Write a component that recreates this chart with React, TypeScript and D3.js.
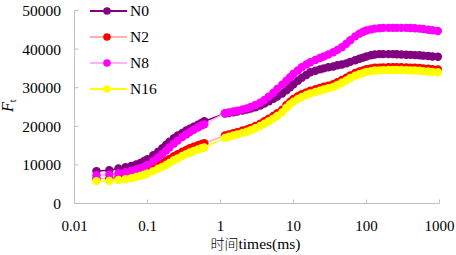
import React from "react";
import * as d3 from "d3";

// ---- data ----
const seriesNames = ["N0", "N2", "N8", "N16"];

const times = [
  0.02, 0.03, 0.04, 0.05, 0.06, 0.07, 0.08, 0.09, 0.1, 0.12, 0.14, 0.16, 0.18, 0.2, 0.23, 0.26, 0.3, 0.34, 0.38, 0.43, 0.49, 0.55, 0.6,
  1.15, 1.3, 1.5, 1.7, 2, 2.3, 2.6, 3, 3.5, 4, 4.6, 5.3, 6, 7, 8, 9, 10, 11.5, 13, 15,
  17, 20, 23, 26, 30, 35, 40, 46, 53, 60, 70, 80, 90, 100, 115, 130, 150, 170, 200, 230,
  260, 300, 350, 400, 460, 530, 600, 700, 800, 950,
];

const n0Values = [
  8400, 8600, 9100, 9400, 9750, 10100, 10500, 11000, 11500, 12500, 13400, 14300, 15200, 16000, 16900, 17600, 18300, 18900, 19400, 19900, 20400, 20900, 21300,
  23300, 23450, 23650, 23850, 24100, 24350, 24600, 24900, 25400, 25900, 26500, 27100, 27700, 28500, 29300, 30100, 30900, 31800, 32600, 33300,
  34000, 34400, 34750, 35000, 35300, 35500, 35800, 36000, 36300, 36700, 37100, 37500, 37800, 38100, 38400, 38600, 38700, 38700, 38700, 38700,
  38650, 38600, 38550, 38500, 38450, 38400, 38300, 38200, 38100, 38000,
];

const n2Values = [
  6400, 6450, 6800, 7000, 7300, 7650, 8000, 8400, 8800, 9400, 10000, 10550, 11050, 11550, 12250, 12800, 13400, 13900, 14300, 14700, 15100, 15400, 15600,
  17600, 17900, 18200, 18500, 18900, 19200, 19600, 20100, 20700, 21300, 22000, 22700, 23400, 24300, 25500, 26400, 27100, 27800, 28300, 28800,
  29200, 29600, 29950, 30250, 30550, 30900, 31400, 32000, 32600, 33200, 33800, 34200, 34500, 34800, 35000, 35150, 35200, 35250, 35300, 35300,
  35300, 35300, 35250, 35200, 35150, 35100, 35000, 34900, 34800, 34700,
];

const n8Values = [
  7300, 7450, 7800, 8100, 8450, 8800, 9150, 9550, 10000, 11000, 11900, 12800, 13700, 14500, 15500, 16300, 17200, 17900, 18500, 19100, 19700, 20200, 20500,
  23400, 23600, 23850, 24050, 24350, 24650, 25000, 25500, 26100, 26800, 27700, 28700, 29700, 30800, 31800, 32700, 33600, 34500, 35300, 36000,
  36600, 37200, 37700, 38100, 38600, 39200, 39800, 40500, 41400, 42300, 43300, 44000, 44500, 44800, 45100, 45300, 45400, 45500, 45500, 45500,
  45500, 45500, 45500, 45450, 45400, 45300, 45200, 45000, 44900, 44700,
];

const n16Values = [
  5800, 5850, 6100, 6300, 6550, 6850, 7150, 7450, 7800, 8400, 9000, 9500, 10000, 10500, 11200, 11700, 12300, 12800, 13200, 13600, 14000, 14300, 14500,
  17000, 17300, 17600, 17900, 18300, 18600, 19000, 19500, 20100, 20700, 21300, 22000, 22700, 23600, 24800, 25700, 26400, 27100, 27600, 28100,
  28500, 28900, 29250, 29550, 29850, 30200, 30700, 31300, 31900, 32500, 33100, 33500, 33800, 34100, 34300, 34450, 34500, 34550, 34600, 34600,
  34600, 34600, 34550, 34500, 34450, 34400, 34300, 34200, 34100, 34000,
];

const xTickValues = [0.01, 0.1, 1, 10, 100, 1000];
const xTickLabels = ["0.01", "0.1", "1", "10", "100", "1000"];
const yTickValues = [0, 10000, 20000, 30000, 40000, 50000];
const xTitleCn = "时间";
const xTitleEn = "times(ms)";

// ---- styling ----
const markerColors = ["#800080", "#FF0000", "#FF00FF", "#FFFF00"];
const lineColors = ["#800080", "#FFB0B0", "#FFB0FF", "#FFFF00"];
const seriesValues = [n0Values, n2Values, n8Values, n16Values];

const W = 456;
const H = 255;
const FONT = "Liberation Serif";
const CJK = "Noto Sans CJK SC";
const AXIS = "#BFBFBF";

export default function App() {
  const x = d3.scaleLog().domain([0.01, 1000]).range([74.5, 439.5]);
  const y = d3.scaleLinear().domain([0, 50000]).range([203.5, 10.5]);

  const line = d3
    .line<[number, number]>()
    .x((d) => x(d[0]))
    .y((d) => y(d[1]));

  const series = seriesValues.map((vals, i) => ({
    name: seriesNames[i],
    pts: times.map((t, j) => [t, vals[j]] as [number, number]),
    marker: markerColors[i],
    line: lineColors[i],
  }));

  const r = 4.2;

  return (
    <svg
      width={W}
      height={H}
      style={{ position: "absolute", left: 0, top: 0, background: "#fff", fontFamily: FONT }}
    >
      {/* axes */}
      <line x1={x(0.01)} x2={x(0.01)} y1={y(50000)} y2={y(0)} stroke={AXIS} strokeWidth={1} />
      <line x1={x(0.01)} x2={x(1000)} y1={y(0)} y2={y(0)} stroke={AXIS} strokeWidth={1} />
      {yTickValues.map((v) => (
        <g key={"y" + v}>
          <line x1={x(0.01)} x2={x(0.01) + 4} y1={y(v)} y2={y(v)} stroke={AXIS} />
          <text x={61} y={y(v)} dy="0.35em" textAnchor="end" fontSize={15.5} fill="#000" style={{ fontFamily: FONT }}>
            {String(v)}
          </text>
        </g>
      ))}
      {xTickValues.map((v, i) => (
        <g key={"x" + v}>
          <line x1={x(v)} x2={x(v)} y1={y(0)} y2={y(0) - 4} stroke={AXIS} />
          <text x={x(v)} y={230.5} textAnchor="middle" fontSize={15} fill="#000" style={{ fontFamily: FONT }}>
            {xTickLabels[i]}
          </text>
        </g>
      ))}

      {/* axis titles */}
      <text x={255.5} y={249} textAnchor="middle" fontSize={15.5} fill="#000">
        <tspan style={{ fontFamily: CJK, fontWeight: 300, fontSize: 14 }}>{xTitleCn}</tspan>
        <tspan style={{ fontFamily: FONT }}>{xTitleEn}</tspan>
      </text>
      <text transform="translate(13,112) rotate(-90)" fontSize={16} fill="#000" style={{ fontFamily: FONT }}>
        <tspan fontStyle="italic">F</tspan>
        <tspan fontSize={10} dy={3}>t</tspan>
      </text>

      {/* series */}
      {series.map((s) => (
        <g key={s.name}>
          <path d={line(s.pts) || ""} fill="none" stroke={s.line} strokeWidth={1.5} />
          {s.pts.map((p, j) => (
            <circle key={j} cx={x(p[0])} cy={y(p[1])} r={r} fill={s.marker} />
          ))}
        </g>
      ))}

      {/* legend */}
      {series.map((s, i) => {
        const ly = 11 + i * 26;
        return (
          <g key={"lg" + s.name}>
            <line x1={90} x2={127} y1={ly} y2={ly} stroke={s.line} strokeWidth={2} />
            <circle cx={107} cy={ly} r={3.8} fill={s.marker} />
            <text x={130} y={ly} dy="0.35em" fontSize={15.5} fill="#000" style={{ fontFamily: FONT }}>
              {s.name}
            </text>
          </g>
        );
      })}
    </svg>
  );
}
